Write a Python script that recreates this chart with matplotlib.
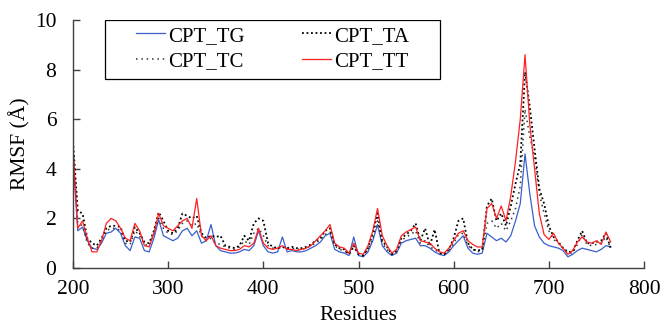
"""
RMSF per residue for the four CPT complexes (TG, TA, TC, TT).
"""
import numpy as np
import matplotlib
matplotlib.use('Agg')
import matplotlib.pyplot as plt
from matplotlib.patches import Rectangle

plt.rcParams['font.family'] = ['Liberation Serif', 'DejaVu Serif']

# Residue numbers (sampled every 5 residues)
residues = np.arange(200, 770, 5)

# RMSF values (Angstrom)
rmsf_tg = [4.4, 1.5, 1.65, 1.1, 0.8, 0.75, 1.0, 1.4, 1.45, 1.6,
           1.4, 0.9, 0.7, 1.25, 1.2, 0.7, 0.65, 1.2, 1.95, 1.3,
           1.2, 1.1, 1.2, 1.5, 1.6, 1.3, 1.5, 1.0, 1.1, 1.75,
           0.9, 0.7, 0.65, 0.6, 0.6, 0.65, 0.75, 0.7, 0.9, 1.5,
           0.9, 0.65, 0.6, 0.65, 1.25, 0.65, 0.7, 0.65, 0.65, 0.7,
           0.8, 0.9, 1.05, 1.3, 1.4, 0.75, 0.65, 0.6, 0.5, 1.25,
           0.5, 0.45, 0.65, 1.1, 1.75, 0.9, 0.65, 0.5, 0.6, 1.0,
           1.1, 1.15, 1.2, 0.9, 0.9, 0.8, 0.65, 0.55, 0.5, 0.65,
           0.9, 1.1, 1.3, 0.8, 0.6, 0.55, 0.6, 1.4, 1.25, 1.1,
           1.2, 1.05, 1.3, 1.9, 2.6, 4.6, 3.0, 1.7, 1.25, 1.0,
           0.9, 0.85, 0.8, 0.7, 0.45, 0.55, 0.7, 0.8, 0.75, 0.7,
           0.65, 0.75, 0.9, 0.85]

rmsf_ta = [5.1, 2.3, 2.2, 1.2, 1.0, 0.9, 1.2, 1.6, 1.7, 1.7,
           1.65, 1.1, 1.05, 1.65, 1.4, 1.05, 1.0, 1.5, 2.25, 1.9,
           1.5, 1.4, 1.6, 2.2, 2.1, 2.0, 2.1, 1.4, 1.2, 1.3,
           1.25, 1.3, 0.9, 0.85, 0.8, 0.9, 1.3, 1.1, 1.8, 2.0,
           1.9, 1.0, 0.85, 0.8, 0.85, 0.8, 0.85, 0.8, 0.8, 0.85,
           0.95, 1.1, 1.2, 1.5, 1.6, 0.95, 0.8, 0.75, 0.55, 0.9,
           0.55, 0.5, 0.8, 1.4, 2.2, 1.1, 0.85, 0.55, 0.7, 1.2,
           1.35, 1.5, 1.8, 1.1, 1.6, 0.9, 1.55, 0.6, 0.55, 0.75,
           1.2, 1.9, 2.0, 1.0, 0.75, 0.7, 0.75, 2.5, 2.8, 1.9,
           2.2, 1.7, 2.5, 3.4, 4.2, 7.9, 6.5, 4.8, 3.2, 2.6,
           1.7, 1.25, 1.05, 0.8, 0.65, 0.65, 1.1, 1.5, 1.0, 1.0,
           1.05, 1.1, 1.4, 0.8]

rmsf_tc = [4.9, 1.8, 1.7, 1.0, 0.8, 0.8, 1.1, 1.5, 1.6, 1.6,
           1.5, 1.0, 0.95, 1.5, 1.3, 0.95, 0.9, 1.4, 2.0, 1.6,
           1.4, 1.35, 1.5, 1.8, 1.9, 1.7, 1.8, 1.3, 1.1, 1.2,
           1.0, 0.95, 0.85, 0.8, 0.75, 0.85, 1.1, 0.95, 1.4, 1.6,
           1.3, 0.9, 0.8, 0.8, 0.85, 0.75, 0.8, 0.75, 0.75, 0.8,
           0.9, 1.0, 1.15, 1.35, 1.45, 0.9, 0.75, 0.7, 0.55, 0.85,
           0.55, 0.5, 0.75, 1.2, 1.9, 1.0, 0.75, 0.55, 0.65, 1.1,
           1.25, 1.35, 1.5, 1.0, 1.1, 0.85, 0.75, 0.6, 0.55, 0.7,
           1.0, 1.35, 1.4, 0.9, 0.75, 0.65, 0.7, 1.8, 1.9, 1.6,
           1.8, 1.5, 1.9, 2.4, 3.3, 6.4, 5.3, 4.5, 3.0, 2.2,
           1.5, 1.15, 1.0, 0.8, 0.6, 0.6, 0.95, 1.35, 0.95, 0.9,
           0.95, 1.0, 1.25, 0.8]

rmsf_tt = [4.8, 1.6, 1.9, 1.2, 0.65, 0.65, 1.1, 1.8, 2.0, 1.9,
           1.6, 1.2, 1.1, 1.8, 1.5, 0.9, 0.85, 1.4, 2.2, 1.7,
           1.6, 1.5, 1.7, 1.9, 2.0, 1.6, 2.8, 1.3, 1.1, 1.3,
           0.9, 0.8, 0.75, 0.7, 0.7, 0.75, 0.9, 0.85, 1.0, 1.6,
           1.0, 0.8, 0.75, 0.8, 0.9, 0.75, 0.75, 0.7, 0.75, 0.8,
           0.9, 1.1, 1.3, 1.5, 1.75, 1.0, 0.85, 0.8, 0.6, 1.0,
           0.6, 0.55, 0.9, 1.5, 2.4, 1.3, 0.9, 0.6, 0.75, 1.3,
           1.45, 1.55, 1.65, 1.1, 1.05, 1.0, 0.8, 0.65, 0.6, 0.8,
           1.1, 1.4, 1.5, 1.1, 0.95, 0.85, 0.85, 2.4, 2.6, 2.0,
           2.5, 1.9, 2.9, 4.3, 6.0, 8.6, 5.8, 4.0, 2.2, 1.35,
           1.15, 1.4, 1.0, 0.8, 0.55, 0.7, 1.05, 1.25, 1.05, 1.0,
           1.1, 0.95, 1.45, 1.05]

fig = plt.figure(figsize=(6.65, 3.28), dpi=100)
ax = fig.add_axes([0.1098, 0.183, 0.8586, 0.756])

l_tg, = ax.plot(residues, rmsf_tg, color='#3a5fcd', lw=0.9)
l_tc, = ax.plot(residues, rmsf_tc, color='#333333', lw=1.1, ls=(0, (1, 2.5)))
l_ta, = ax.plot(residues, rmsf_ta, color='black', lw=1.3, ls=(0, (1, 1.5)))
l_tt, = ax.plot(residues, rmsf_tt, color='#ff2020', lw=0.9)

ax.set_xlim(200, 800)
ax.set_ylim(0, 10)
ax.set_xticks([200, 300, 400, 500, 600, 700, 800])
ax.set_yticks([0, 2, 4, 6, 8, 10])

for side in ['top', 'right']:
    ax.spines[side].set_visible(False)
for side in ['left', 'bottom']:
    ax.spines[side].set_color('#404040')
    ax.spines[side].set_linewidth(1.0)

ax.tick_params(axis='both', direction='in', length=5, width=1.0, color='#404040',
               labelsize=15.5)
ax.tick_params(axis='y', pad=12)
ax.tick_params(axis='x', pad=9)

ax.set_xlabel('Residues', fontsize=15.5)
ax.set_ylabel('RMSF (Å)', fontsize=15.5)
ax.xaxis.set_label_coords(0.5, -0.155)
ax.yaxis.set_label_coords(-0.074, 0.5)

# legend box drawn separately so the entries can sit inside with wide side margins
box = Rectangle((0.056, 0.762), 0.587, 0.238, transform=ax.transAxes,
                facecolor='white', edgecolor='black', lw=0.9, zorder=4)
ax.add_patch(box)
leg = ax.legend([l_tg, l_tc, l_ta, l_tt], ['CPT_TG', 'CPT_TC', 'CPT_TA', 'CPT_TT'],
                ncol=2, loc='upper left', bbox_to_anchor=(0.110, 0.975),
                borderaxespad=0, borderpad=0, frameon=False,
                fontsize=15, handlelength=1.4, handletextpad=0.15,
                labelspacing=0.28, columnspacing=2.75)
leg.set_zorder(5)

plt.savefig('out.png', dpi=100, facecolor='white')
